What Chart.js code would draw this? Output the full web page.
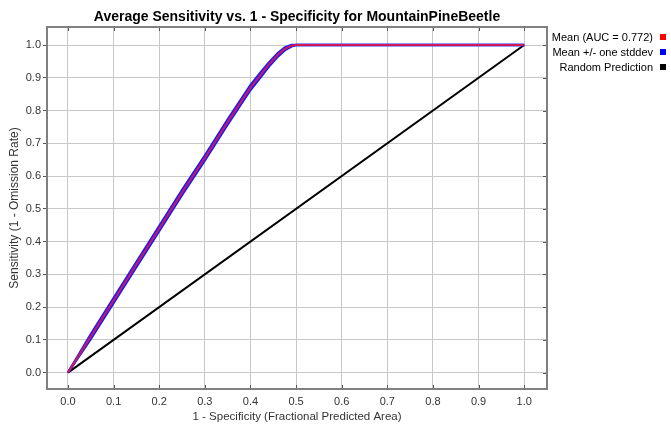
<!DOCTYPE html>
<html>
<head>
<meta charset="utf-8">
<script src="https://cdn.jsdelivr.net/npm/chart.js@4/dist/chart.umd.min.js"></script>
<style>
    html, body { margin: 0; padding: 0; background: #fff; }
    #wrap { width: 671px; height: 424px; position: relative; }
</style>
</head>
<body>
<div id="wrap"><canvas id="roc"></canvas></div>
<script>
// fractional predicted area (x) and mean sensitivity (y)
const areaX     = [0, 0.05, 0.10, 0.15, 0.20, 0.25, 0.30, 0.35, 0.40, 0.42, 0.44, 0.46, 0.475, 0.49, 0.50, 0.70, 1.0];
const meanSens  = [0, 0.11, 0.22, 0.33, 0.44, 0.55, 0.655, 0.765, 0.87, 0.905, 0.94, 0.97, 0.988, 0.998, 1.0, 1.0, 1.0];
const upperSens = [0, 0.117, 0.227, 0.337, 0.447, 0.557, 0.662, 0.772, 0.877, 0.912, 0.946, 0.975, 0.992, 1.0, 1.0, 1.0, 1.0];
const lowerSens = [0, 0.103, 0.213, 0.323, 0.433, 0.543, 0.648, 0.758, 0.863, 0.898, 0.934, 0.965, 0.984, 0.996, 1.0, 1.0, 1.0];
const randomX = [0, 1];
const randomY = [0, 1];
const tickValues = [0, 0.1, 0.2, 0.3, 0.4, 0.5, 0.6, 0.7, 0.8, 0.9, 1.0];

const legendItems = [
    {text: "Mean (AUC = 0.772)", color: "#ff0000"},
    {text: "Mean +/- one stddev", color: "#0000ff"},
    {text: "Random Prediction", color: "#000000"}
];

const pts = (xs, ys) => xs.map((x, i) => ({x: x, y: ys[i]}));
const FONT = "'Liberation Sans', Arial, sans-serif";

const decor = {
    id: "decor",
    afterDraw(chart) {
        const ctx = chart.ctx;
        const a = chart.chartArea;
        ctx.save();
        // title
        ctx.fillStyle = "#000";
        ctx.font = "bold 14px " + FONT;
        ctx.textAlign = "center";
        ctx.textBaseline = "middle";
        ctx.fillText("Average Sensitivity vs. 1 - Specificity for MountainPineBeetle", (a.left + a.right) / 2, 17);
        // inside ticks: top, bottom, right
        ctx.strokeStyle = "#555";
        ctx.lineWidth = 1;
        ctx.beginPath();
        tickValues.forEach(v => {
            const x = Math.round(chart.scales.x.getPixelForValue(v)) + 0.5;
            ctx.moveTo(x, a.top); ctx.lineTo(x, a.top + 4);
            ctx.moveTo(x, a.bottom); ctx.lineTo(x, a.bottom - 4);
            const y = Math.round(chart.scales.y.getPixelForValue(v)) + 0.5;
            ctx.moveTo(a.right, y); ctx.lineTo(a.right - 4, y);
        });
        ctx.stroke();
        // frame
        ctx.strokeStyle = "#808080";
        ctx.lineWidth = 2;
        ctx.strokeRect(a.left, a.top, a.right - a.left, a.bottom - a.top);
        // legend
        ctx.font = "11px " + FONT;
        ctx.textAlign = "right";
        legendItems.forEach((it, i) => {
            const y = 38 + i * 15;
            ctx.fillStyle = "#000";
            ctx.fillText(it.text, 653, y);
            ctx.fillStyle = it.color;
            ctx.fillRect(660, y - 4, 6, 6);
        });
        ctx.restore();
    }
};

const axisTicks = s => { s.ticks = tickValues.map(v => ({value: v})); };

new Chart(document.getElementById("roc").getContext("2d"), {
    type: "scatter",
    data: {
        datasets: [{
            label: "Random Prediction",
            data: pts(randomX, randomY),
            showLine: true,
            borderColor: "#000000",
            borderWidth: 2,
            pointRadius: 0,
            order: 3
        }, {
            label: "Mean + one stddev",
            data: pts(areaX, upperSens),
            showLine: true,
            borderColor: "#1a1aff",
            borderWidth: 2.5,
            pointRadius: 0,
            order: 2
        }, {
            label: "Mean - one stddev",
            data: pts(areaX, lowerSens),
            showLine: true,
            borderColor: "#1a1aff",
            borderWidth: 2.5,
            pointRadius: 0,
            order: 2
        }, {
            label: "Mean",
            data: pts(areaX, meanSens),
            showLine: true,
            borderColor: "rgb(205,25,85)",
            borderWidth: 2,
            pointRadius: 0,
            order: 1
        }]
    },
    options: {
        responsive: true,
        maintainAspectRatio: false,
        animation: false,
        layout: {padding: {top: 27, right: 124, left: 7, bottom: 0}},
        plugins: {
            legend: {display: false},
            title: {display: false},
            tooltip: {enabled: false}
        },
        scales: {
            x: {
                type: "linear",
                min: -0.046,
                max: 1.05,
                afterBuildTicks: axisTicks,
                afterFit: s => { s.height = 35; },
                ticks: {
                    color: "#333",
                    font: {family: FONT, size: 11},
                    padding: 6,
                    maxRotation: 0,
                    callback: v => v.toFixed(1)
                },
                grid: {color: "#c8c8c8", drawTicks: false},
                border: {display: false},
                title: {
                    display: true,
                    text: "1 - Specificity (Fractional Predicted Area)",
                    color: "#333",
                    font: {family: FONT, size: 11.5},
                    padding: {top: 0, bottom: 0}
                }
            },
            y: {
                type: "linear",
                min: -0.05,
                max: 1.055,
                afterBuildTicks: axisTicks,
                afterFit: s => { s.width = 40; },
                ticks: {
                    color: "#333",
                    font: {family: FONT, size: 11},
                    padding: 2,
                    callback: v => v.toFixed(1)
                },
                grid: {color: "#c8c8c8", tickColor: "#555", tickLength: 4},
                border: {display: false},
                title: {
                    display: true,
                    text: "Sensitivity (1 - Omission Rate)",
                    color: "#333",
                    font: {family: FONT, size: 12},
                    padding: {top: 0, bottom: 0}
                }
            }
        }
    },
    plugins: [decor]
});
</script>
</body>
</html>
